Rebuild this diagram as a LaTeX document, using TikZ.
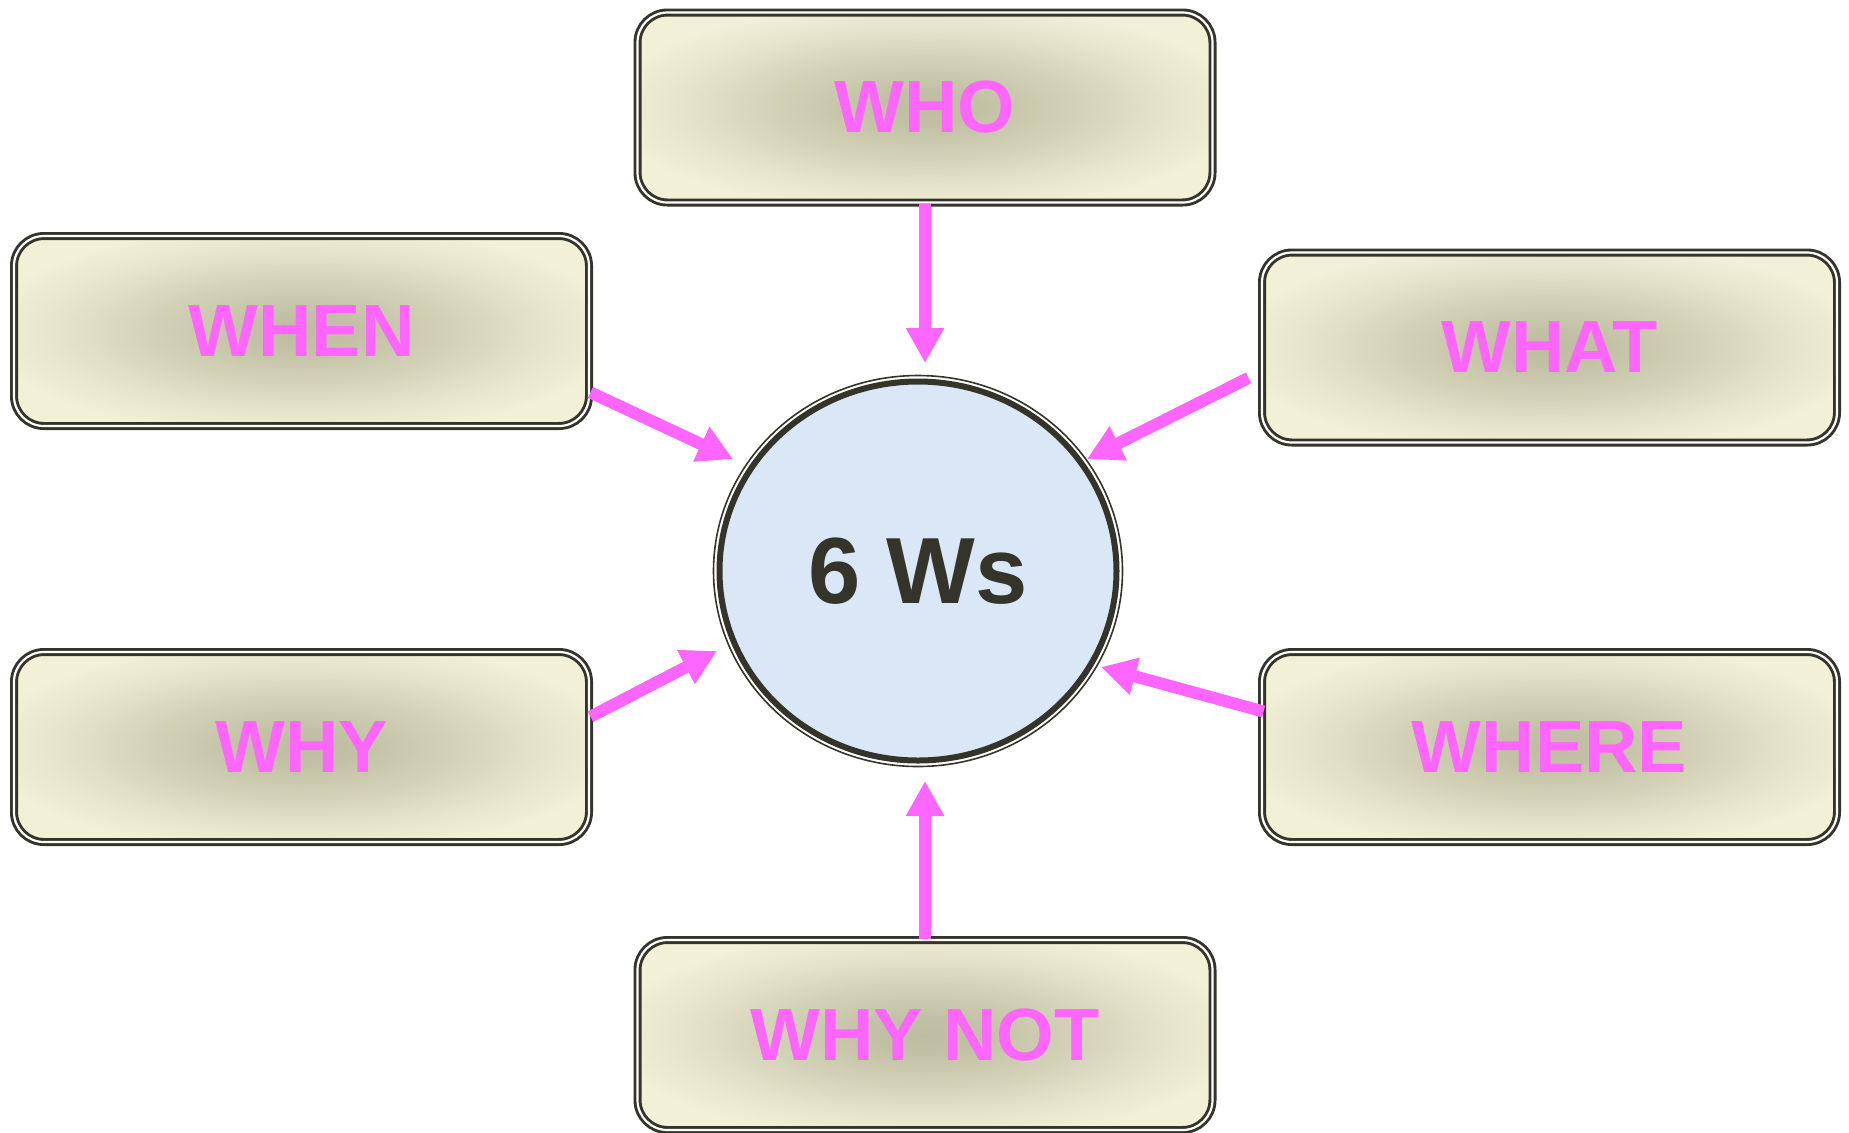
\documentclass[tikz,border=0pt]{standalone}
\usepackage{fontspec}
\setmainfont{Liberation Sans}
\usetikzlibrary{arrows.meta,shapes.geometric}

\definecolor{ink}{HTML}{35342A}
\definecolor{rose}{HTML}{FF66FF}
\definecolor{cream}{HTML}{F2F0D7}
\definecolor{khaki}{HTML}{BFBDA1}
\definecolor{sky}{HTML}{D9E7F6}

% soft darker centre fading out to cream well before the box edges
\pgfdeclareradialshading{boxglow}{\pgfpoint{0bp}{0bp}}{%
  color(0bp)=(khaki);
  color(5bp)=(khaki!92!cream);
  color(13bp)=(khaki!62!cream);
  color(21bp)=(khaki!25!cream);
  color(28bp)=(cream);
  color(72bp)=(cream)}

\tikzset{
  qbox/.style={rectangle, rounded corners=15pt,
    minimum width=287.5pt, minimum height=95pt,
    shade, shading=boxglow,
    draw=ink, line width=1.45pt, double=white, double distance=1.1pt,
    text=rose, font=\bfseries\fontsize{37}{40}\selectfont},
  flow/.style={draw=rose, line width=6pt,
    -{Triangle[length=17.5pt, width=18pt]}},
}

\begin{document}
\begin{tikzpicture}[x=0.5pt, y=-0.5pt]
  \fill[white] (0,0) rectangle (1849,1132);
  \useasboundingbox (0,0) rectangle (1849,1132);

  % centre disc with its thin outer ring
  \node[ellipse, draw=ink, line width=3pt, fill=sky,
        minimum width=198.5pt, minimum height=189.5pt, inner sep=0pt,
        text=ink, font=\bfseries\fontsize{47}{50}\selectfont]
        (hub) at (918,571) {6 Ws};
  \draw[ink, line width=0.8pt] (hub.center) ellipse [x radius=102.25pt, y radius=97.75pt];

  % the six question boxes
  \node[qbox] (who)    at (925,107.5)  {WHO};
  \node[qbox] (when)   at (301.5,331)  {WHEN};
  \node[qbox] (what)   at (1549.5,347.5) {WHAT};
  \node[qbox] (why)    at (301.5,747)  {WHY};
  \node[qbox] (where)  at (1549.5,747) {WHERE};
  \node[qbox] (whynot) at (925,1035)   {WHY NOT};

  % arrow tips, just short of the disc
  \coordinate (tipWho)    at (925,363);
  \coordinate (tipWhen)   at (733,459);
  \coordinate (tipWhat)   at (1087,459);
  \coordinate (tipWhy)    at (717,651);
  \coordinate (tipWhere)  at (1101,667);
  \coordinate (tipWhyNot) at (925,781);

  \draw[flow] (who.south) -- (tipWho);
  \draw[flow] (when.-12.7) -- (tipWhen);
  \draw[flow] ([xshift=-6pt]what.186.1) -- (tipWhat);
  \draw[flow] (why.6.3) -- (tipWhy);
  \draw[flow] ([xshift=1.5pt]where.173.9) -- (tipWhere);
  \draw[flow] (whynot.north) -- (tipWhyNot);
\end{tikzpicture}
\end{document}
